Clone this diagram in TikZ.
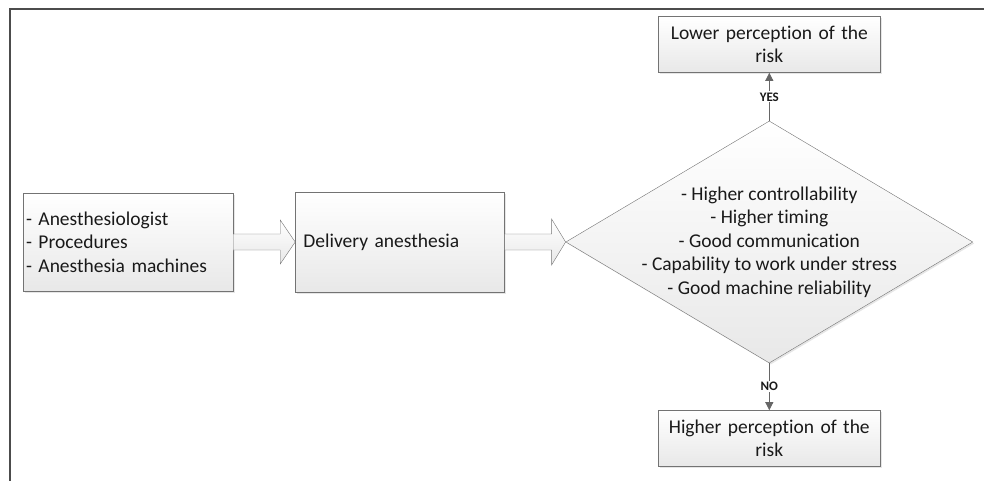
\documentclass[tikz,border=0pt]{standalone}
\usepackage{fontspec}
\setmainfont{Carlito}[Ligatures=NoCommon]
\usetikzlibrary{arrows.meta,positioning,shapes.geometric,shadows}

\begin{document}
\begin{tikzpicture}[
    x=1pt, y=-1pt,
    every node/.style={font=\fontsize{19.5}{23.4}\selectfont, text=black!90},
    shade box/.style={draw=black!55, top color=white, bottom color=black!9,
        drop shadow={opacity=0.2, shadow xshift=1.5pt, shadow yshift=-1.5pt}},
    box/.style={shade box, inner sep=3pt, align=left},
    outcome/.style={shade box, align=center, text width=214pt, minimum height=56pt, inner sep=4pt},
    decision/.style={shade box, diamond, aspect=1.68, inner sep=-14pt,
        minimum width=407pt, minimum height=242pt, align=center},
    fat/.style={draw=black!55, top color=white, bottom color=black!9, line join=miter},
    flow/.style={draw=black!60, thick, -{Triangle[length=8pt, width=8pt]}},
    tag/.style={font=\fontsize{13}{14}\selectfont\bfseries, fill=white, inner sep=1pt}
]
\useasboundingbox (0,0) rectangle (984,481);
% frame
\draw[black!70, line width=1.6pt] (984,9) -- (10,9) -- (10,481);

\node[box, text width=204pt, minimum height=98pt] (inputs) at (128,242)
    {- Anesthesiologist\\- Procedures\\- Anesthesia machines};
\node[box, text width=193pt, inner xsep=8pt, minimum height=100pt, right=62pt of inputs] (deliv)
    {Delivery anesthesia};
\node[decision, right=61pt of deliv] (check)
    {- Higher controllability\\- Higher timing\\- Good communication\\- Capability to work under stress\\- Good machine reliability};
\node[outcome, above=48pt of check] (lower) {Lower perception of the\\risk};
\node[outcome, below=47pt of check] (higher) {Higher perception of the\\risk};

% block arrows
\path[fat] ([yshift=8pt]inputs.east) -- ([xshift=-15pt, yshift=8pt]deliv.west)
    -- ([xshift=-15pt, yshift=22pt]deliv.west) -- (deliv.west)
    -- ([xshift=-15pt, yshift=-22pt]deliv.west) -- ([xshift=-15pt, yshift=-8pt]deliv.west)
    -- ([yshift=-8pt]inputs.east) -- cycle;
\path[fat] ([yshift=8pt]deliv.east) -- ([xshift=-14pt, yshift=8pt]check.west)
    -- ([xshift=-14pt, yshift=23pt]check.west) -- (check.west)
    -- ([xshift=-14pt, yshift=-23pt]check.west) -- ([xshift=-14pt, yshift=-8pt]check.west)
    -- ([yshift=-8pt]deliv.east) -- cycle;

\draw[flow] (check.north) -- node[tag, pos=0.5] {YES} (lower.south);
\draw[flow] (check.south) -- node[tag, pos=0.5] {NO} (higher.north);
\end{tikzpicture}
\end{document}
